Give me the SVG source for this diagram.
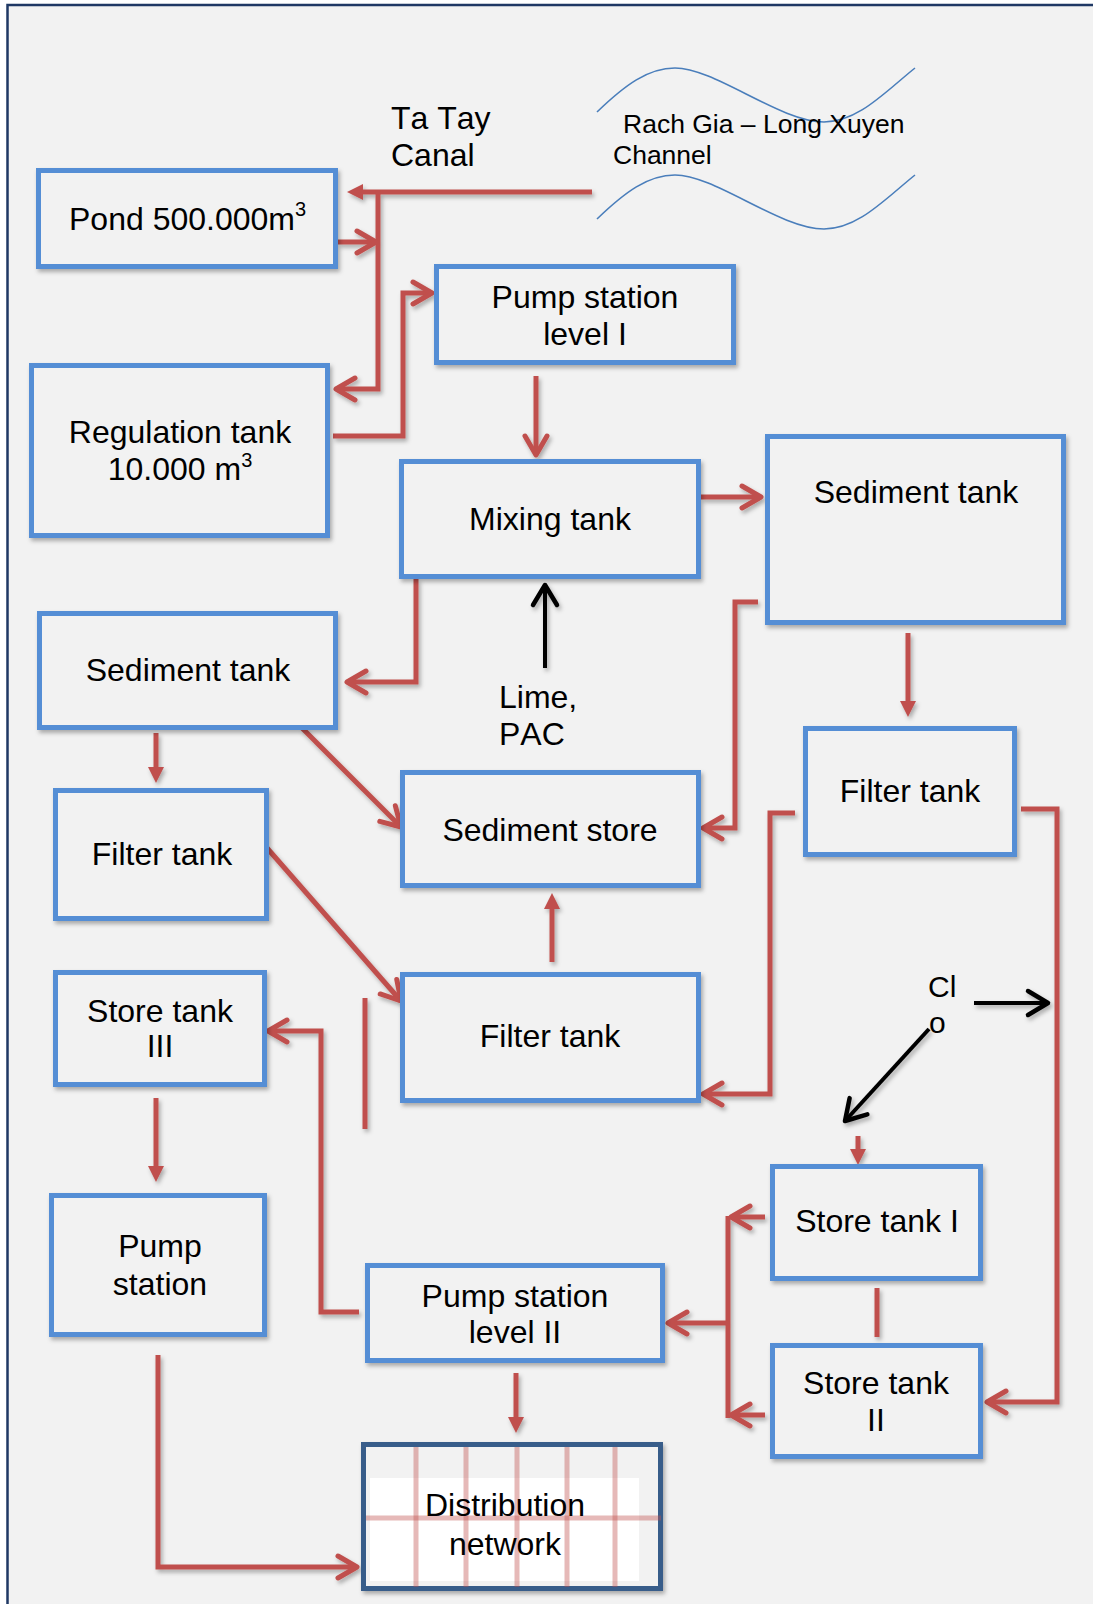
<svg xmlns="http://www.w3.org/2000/svg" width="1093" height="1604" viewBox="0 0 1093 1604">
<style>
.box{fill:#f2f2f2;stroke:#558ed5;stroke-width:5}
.t{font-family:"Liberation Sans",Arial,sans-serif;font-size:32px;fill:#000;font-kerning:none}
.tm{text-anchor:middle}
.c{fill:none;stroke:#c0504d;stroke-width:5}
.k{fill:none;stroke:#000;stroke-width:4}
.w{fill:none;stroke:#4a7ebb;stroke-width:1.6}
.g{stroke:#c0504d;stroke-width:5;stroke-opacity:0.4}
</style>
<defs>
<filter id="sh" x="-10%" y="-10%" width="130%" height="130%">
<feDropShadow dx="2" dy="3" stdDeviation="2" flood-color="#000" flood-opacity="0.3"/>
</filter>
<marker id="ch" markerUnits="userSpaceOnUse" markerWidth="40" markerHeight="40" refX="0" refY="0" viewBox="-25 -20 40 40" orient="auto" overflow="visible">
<path d="M-19,-11 L0,0 L-19,11" fill="none" stroke="#c0504d" stroke-width="5" stroke-linejoin="round" stroke-linecap="round"/>
</marker>
<marker id="tr" markerUnits="userSpaceOnUse" markerWidth="40" markerHeight="40" refX="0" refY="0" viewBox="-20 -20 40 40" orient="auto" overflow="visible">
<path d="M-4,-8 L12,0 L-4,8 Z" fill="#c0504d"/>
</marker>
<marker id="kc" markerUnits="userSpaceOnUse" markerWidth="40" markerHeight="40" refX="0" refY="0" viewBox="-25 -20 40 40" orient="auto" overflow="visible">
<path d="M-20,-12 L0,0 L-20,12" fill="none" stroke="#000" stroke-width="4.5" stroke-linejoin="round" stroke-linecap="round"/>
</marker>
</defs>
<rect x="0" y="0" width="1093" height="1604" fill="#fff"/>
<rect x="7.5" y="5" width="1110" height="1630" fill="#f2f2f2" stroke="#1f3864" stroke-width="2.5"/>

<g id="river">
<path class="w" d="M597,112 C625,85 648,68 675,68 C715,68 780,122 824,122 C858,122 885,92 915,68"/>
<path class="w" d="M597,219 C625,192 648,175 675,175 C715,175 780,229 824,229 C858,229 885,199 915,175"/>
<text class="t" style="font-size:26.5px" x="623" y="133">Rach Gia – Long Xuyen</text>
<text class="t" style="font-size:26.5px" x="613" y="164">Channel</text>
</g>
<g id="canal-label">
<text class="t" x="391" y="129">Ta Tay</text>
<text class="t" x="391" y="166">Canal</text>
</g>

<g id="connectors" filter="url(#sh)">
<path class="c" d="M592,192 L359,192" marker-end="url(#tr)"/>
<path class="c" d="M378,190 L378,389 L336,389" marker-end="url(#ch)"/>
<path class="c" d="M338,242 L376,242" marker-end="url(#ch)"/>
<path class="c" d="M333,436 L403,436 L403,293 L432,293" marker-end="url(#ch)"/>
<path class="c" d="M536,376 L536,455" marker-end="url(#ch)"/>
<path class="c" d="M701,497 L761,497" marker-end="url(#ch)"/>
<path class="c" d="M758,602 L735,602 L735,828 L703,828" marker-end="url(#ch)"/>
<path class="c" d="M908,633 L908,705" marker-end="url(#tr)"/>
<path class="c" d="M416,579 L416,682 L347,682" marker-end="url(#ch)"/>
<path class="c" d="M156,733 L156,771" marker-end="url(#tr)"/>
<path class="c" d="M302,728 L401,827" marker-end="url(#ch)"/>
<path class="c" d="M267,848 L401,1001" marker-end="url(#ch)"/>
<path class="c" d="M552,962 L552,905" marker-end="url(#tr)"/>
<path class="c" d="M795,813 L770,813 L770,1094 L703,1094" marker-end="url(#ch)"/>
<path class="c" d="M1021,809 L1057,809 L1057,1402 L987,1402" marker-end="url(#ch)"/>
<path class="c" d="M365,998 L365,1129"/>
<path class="c" d="M359,1312 L321,1312 L321,1031 L268,1031" marker-end="url(#ch)"/>
<path class="c" d="M156,1098 L156,1170" marker-end="url(#tr)"/>
<path class="c" d="M158,1355 L158,1567 L357,1567" marker-end="url(#ch)"/>
<path class="c" d="M516,1373 L516,1421" marker-end="url(#tr)"/>
<path class="c" d="M877,1288 L877,1337"/>
<path class="c" d="M858,1136 L858,1153" marker-end="url(#tr)"/>
<path class="c" d="M728,1216 L728,1418"/>
<path class="c" d="M765,1217 L731,1217" marker-end="url(#ch)"/>
<path class="c" d="M765,1415 L731,1415" marker-end="url(#ch)"/>
<path class="c" d="M728,1323 L668,1323" marker-end="url(#ch)"/>
<path class="k" d="M545,668 L545,585" marker-end="url(#kc)"/>
<path class="k" d="M974,1003 L1048,1003" marker-end="url(#kc)"/>
<path class="k" d="M929,1029 L845,1121" marker-end="url(#kc)"/>
</g>

<g id="pond"><rect class="box" filter="url(#sh)" x="38.5" y="170.5" width="297" height="96"/>
<text class="t" x="69" y="230">Pond 500.000m<tspan style="font-size:20px" dy="-14">3</tspan></text></g>

<g id="pump1"><rect class="box" filter="url(#sh)" x="436.5" y="266.5" width="297" height="96"/>
<text class="t tm" x="585" y="308">Pump station</text><text class="t tm" x="585" y="345">level I</text></g>

<g id="regulation"><rect class="box" filter="url(#sh)" x="31.5" y="365.5" width="296" height="170"/>
<text class="t tm" x="180" y="443">Regulation tank</text>
<text class="t tm" x="180" y="480">10.000 m<tspan style="font-size:20px" dy="-13">3</tspan></text></g>

<g id="mixing"><rect class="box" filter="url(#sh)" x="401.5" y="461.5" width="297" height="115"/>
<text class="t tm" x="550" y="530">Mixing tank</text></g>

<g id="sediment-r"><rect class="box" filter="url(#sh)" x="767.5" y="436.5" width="296" height="186"/>
<text class="t tm" x="916" y="503">Sediment tank</text></g>

<g id="lime"><text class="t" x="499" y="708">Lime,</text><text class="t" x="499" y="745">PAC</text></g>

<g id="sediment-l"><rect class="box" filter="url(#sh)" x="39.5" y="613.5" width="296" height="114"/>
<text class="t tm" x="188" y="681">Sediment tank</text></g>

<g id="filter-r"><rect class="box" filter="url(#sh)" x="805.5" y="728.5" width="209" height="126"/>
<text class="t tm" x="910" y="802">Filter tank</text></g>

<g id="sediment-store"><rect class="box" filter="url(#sh)" x="402.5" y="772.5" width="296" height="113"/>
<text class="t tm" x="550" y="841">Sediment store</text></g>

<g id="filter-l"><rect class="box" filter="url(#sh)" x="55.5" y="790.5" width="211" height="128"/>
<text class="t tm" x="162" y="865">Filter tank</text></g>

<g id="filter-c"><rect class="box" filter="url(#sh)" x="402.5" y="974.5" width="296" height="126"/>
<text class="t tm" x="550" y="1047">Filter tank</text></g>

<g id="store3"><rect class="box" filter="url(#sh)" x="55.5" y="972.5" width="209" height="112"/>
<text class="t tm" x="160" y="1022">Store tank</text><text class="t tm" x="160" y="1057">III</text></g>

<g id="clo"><text class="t" style="font-size:30px" x="928" y="997">Cl</text><text class="t" style="font-size:30px" x="929" y="1033">o</text></g>

<g id="store1"><rect class="box" filter="url(#sh)" x="772.5" y="1166.5" width="208" height="112"/>
<text class="t tm" x="877" y="1232">Store tank I</text></g>

<g id="pump-station"><rect class="box" filter="url(#sh)" x="51.5" y="1195.5" width="213" height="139"/>
<text class="t tm" x="160" y="1257">Pump</text><text class="t tm" x="160" y="1295">station</text></g>

<g id="pump2"><rect class="box" filter="url(#sh)" x="367.5" y="1265.5" width="295" height="95"/>
<text class="t tm" x="515" y="1307">Pump station</text><text class="t tm" x="515" y="1343">level II</text></g>

<g id="store2"><rect class="box" filter="url(#sh)" x="772.5" y="1345.5" width="208" height="111"/>
<text class="t tm" x="876" y="1394">Store tank</text><text class="t tm" x="876" y="1431">II</text></g>

<g id="distribution">
<rect filter="url(#sh)" x="363.5" y="1444.5" width="297" height="144" fill="#f2f2f2" stroke="#385d8a" stroke-width="5"/>
<rect x="370" y="1478" width="269" height="103" fill="#fff"/>
<line class="g" x1="416" y1="1447" x2="416" y2="1587"/>
<line class="g" x1="466" y1="1447" x2="466" y2="1587"/>
<line class="g" x1="517" y1="1447" x2="517" y2="1587"/>
<line class="g" x1="567" y1="1447" x2="567" y2="1587"/>
<line class="g" x1="615" y1="1447" x2="615" y2="1587"/>
<line class="g" x1="366" y1="1518" x2="661" y2="1518"/>
<text class="t tm" x="505" y="1516">Distribution</text><text class="t tm" x="505" y="1555">network</text>
</g>
</svg>
